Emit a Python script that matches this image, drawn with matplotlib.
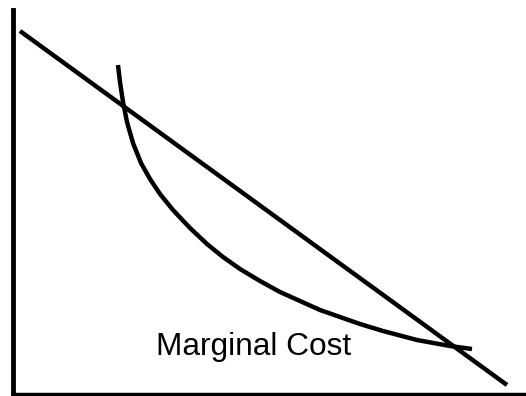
import matplotlib
matplotlib.use('Agg')
import matplotlib.pyplot as plt

# Datos (x hacia la derecha, y hacia arriba, origen en los ejes)
# Recta de demanda / precio
line_x = [7.5, 494.5]
line_y = [363, 9]

# Curva de costo marginal
curve_x = [105.5, 107.5, 110.5, 114.5, 120.5, 128.5, 137.5, 147.5, 160.5, 177.5, 194.5,
           210.5, 227.5, 247.5, 267.5, 287.5, 307.5, 327.5, 347.5, 370.5, 404.5, 437.5,
           459.5]
curve_y = [329, 312, 292, 272, 251, 231, 215, 200, 184, 166, 150, 137, 125, 113, 102,
           93, 84, 77, 70, 63, 54, 48, 45]

label_text = 'Marginal Cost'

W, H = 526, 396
fig = plt.figure(figsize=(W / 100, H / 100), dpi=100)
ax = fig.add_axes([12.5 / W, 2 / H, (W - 12.5) / W, 384 / H])
ax.set_xlim(0, W - 12.5)
ax.set_ylim(0, 384)

ax.plot(line_x, line_y, color='black', linewidth=3.2, solid_capstyle='butt')
ax.plot(curve_x, curve_y, color='black', linewidth=3.2, solid_capstyle='butt',
        solid_joinstyle='round')
ax.text(143.5, 39, label_text, fontsize=22.8, family='Liberation Sans',
        ha='left', va='baseline')

for s in ['top', 'right']:
    ax.spines[s].set_visible(False)
ax.spines['left'].set_linewidth(3.5)
ax.spines['bottom'].set_linewidth(2.5)
ax.set_xticks([])
ax.set_yticks([])

fig.savefig('out.png', dpi=100)
